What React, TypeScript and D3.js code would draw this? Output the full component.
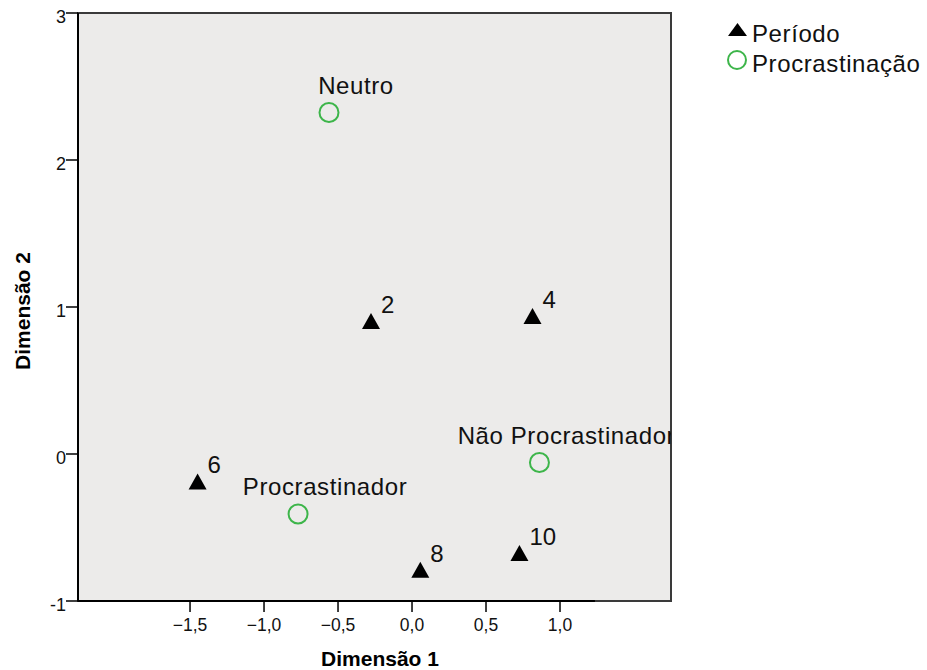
import React from "react";
import * as d3 from "d3";

// ---- data ----
const periodLabels = ["2", "4", "6", "8", "10"];
const periodX = [-0.277, 0.814, -1.449, 0.056, 0.726];
const periodY = [0.905, 0.939, -0.187, -0.788, -0.673];

const procLabels = ["Neutro", "Procrastinador", "Não Procrastinador"];
const procX = [-0.561, -0.77, 0.861];
const procY = [2.323, -0.408, -0.058];

const xTicks = [-1.5, -1.0, -0.5, 0.0, 0.5, 1.0];
const yTicks = [3, 2, 1, 0, -1];
const legendItems = ["Período", "Procrastinação"];

const xTitle = "Dimensão 1";
const yTitle = "Dimensão 2";

// ---- layout ----
const W = 927;
const H = 670;
const left = 78;
const right = 671;
const top = 13;
const bottom = 601;
const xDomain: [number, number] = [-2.257, 1.75];
const yDomain: [number, number] = [-1, 3];
const xAxisEnd = 1.236;

const FONT = "'Liberation Sans', Arial, Helvetica, sans-serif";
const GREEN = "#3db54a";
const LS = 0.6;

function tri(cx: number, cy: number, w: number, h: number) {
  return `M${cx},${cy - h / 2}L${cx + w / 2},${cy + h / 2}L${cx - w / 2},${cy + h / 2}Z`;
}

const fmt = (v: number) => d3.format(".1f")(v).replace(".", ",");

export default function App() {
  const x = d3.scaleLinear().domain(xDomain).range([left, right]);
  const y = d3.scaleLinear().domain(yDomain).range([bottom, top]);

  return (
    <svg
      width={W}
      height={H}
      style={{ position: "absolute", left: 0, top: 0, background: "#fff" }}
      fontFamily={FONT}
    >
      <defs>
        <clipPath id="plotclip">
          <rect x={left} y={top} width={right - left} height={bottom - top} />
        </clipPath>
      </defs>
      <rect x={left} y={top} width={right - left} height={bottom - top} fill="#ecebea" stroke="#3a3a3a" strokeWidth={2} />

      {/* y axis */}
      <line x1={left} x2={left} y1={top} y2={bottom} stroke="#000" strokeWidth={2} />
      {yTicks.map((t) => (
        <g key={"y" + t}>
          <line x1={left - 12} x2={left} y1={y(t)} y2={y(t)} stroke="#000" strokeWidth={1.5} />
          <text x={left - 12} y={y(t) + 10} fontSize={18} textAnchor="end" fill="#111">
            {String(t)}
          </text>
        </g>
      ))}

      {/* x axis */}
      <line x1={left} x2={x(xAxisEnd)} y1={bottom} y2={bottom} stroke="#000" strokeWidth={2} />
      {xTicks.map((t) => (
        <g key={"x" + t}>
          <line x1={x(t)} x2={x(t)} y1={bottom} y2={bottom + 11} stroke="#000" strokeWidth={1.5} />
          <text x={x(t)} y={631} fontSize={17.5} textAnchor="middle" fill="#111">
            {fmt(t)}
          </text>
        </g>
      ))}

      <text x={380} y={666} fontSize={21} fontWeight="bold" textAnchor="middle" fill="#000">
        {xTitle}
      </text>
      <text
        transform={`translate(30,${(top + bottom) / 2 + 4}) rotate(-90)`}
        fontSize={21}
        fontWeight="bold"
        textAnchor="middle"
        fill="#000"
      >
        {yTitle}
      </text>

      <g clipPath="url(#plotclip)">
        {procLabels.map((lab, i) => (
          <g key={lab}>
            <circle cx={x(procX[i])} cy={y(procY[i])} r={9.5} fill="none" stroke={GREEN} strokeWidth={2} />
            <text
              x={x(procX[i]) + 27}
              y={y(procY[i]) - 19}
              fontSize={24}
              letterSpacing={LS}
              textAnchor="middle"
              fill="#111"
            >
              {lab}
            </text>
          </g>
        ))}
        {periodLabels.map((lab, i) => (
          <g key={lab}>
            <path d={tri(x(periodX[i]), y(periodY[i]), 18, 16)} fill="#000" />
            <text x={x(periodX[i]) + 10} y={y(periodY[i]) - 8} fontSize={24} fill="#111">
              {lab}
            </text>
          </g>
        ))}
      </g>

      {/* legend */}
      <path d={tri(737.5, 29.5, 19, 13)} fill="#000" />
      <text x={752} y={42} fontSize={24} letterSpacing={LS} fill="#111">
        {legendItems[0]}
      </text>
      <circle cx={737} cy={60} r={9} fill="none" stroke={GREEN} strokeWidth={2} />
      <text x={752} y={72} fontSize={24} letterSpacing={LS} fill="#111">
        {legendItems[1]}
      </text>
    </svg>
  );
}
